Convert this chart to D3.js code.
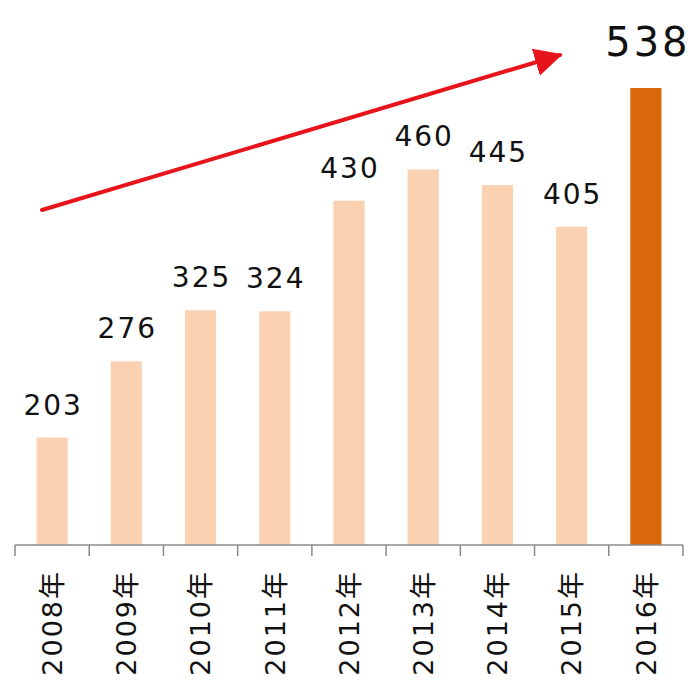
<!DOCTYPE html>
<html>
<head>
<meta charset="utf-8">
<script src="https://cdn.jsdelivr.net/npm/d3@7"></script>
<style>
  html, body { margin: 0; padding: 0; background: #fff; }
  svg { display: block; }
</style>
</head>
<body>
<svg id="chart" width="696" height="684"></svg>
<script>
// Yearly totals, 2008–2016
const years = ["2008年", "2009年", "2010年", "2011年", "2012年", "2013年", "2014年", "2015年", "2016年"];
const values = [203, 276, 325, 324, 430, 460, 445, 405, 538];
const highlightYear = "2016年";

const width = 696, height = 684;
const axisY = 545;

const svg = d3.select("#chart");

const x = d3.scaleBand()
  .domain(years)
  .range([15, 683])
  .paddingInner(0.58)
  .paddingOuter(0.29);

// value axis starts at 100, not zero
const y = d3.scaleLinear()
  .domain([100, 538])
  .range([axisY, 88]);

// bars
svg.append("g")
  .selectAll("rect")
  .data(years)
  .join("rect")
  .attr("x", d => x(d))
  .attr("width", x.bandwidth())
  .attr("y", (d, i) => y(values[i]))
  .attr("height", (d, i) => axisY - y(values[i]))
  .attr("fill", d => d === highlightYear ? "#D9680A" : "#FAD2B2");

// value labels
svg.append("g")
  .selectAll("text")
  .data(years)
  .join("text")
  .attr("x", d => x(d) + x.bandwidth() / 2 + (d === highlightYear ? 2 : 1))
  .attr("y", (d, i) => y(values[i]) - (d === highlightYear ? 32 : 23))
  .attr("text-anchor", "middle")
  .attr("font-family", "DejaVu Sans, sans-serif")
  .attr("font-size", d => d === highlightYear ? 40 : 28)
  .attr("letter-spacing", d => d === highlightYear ? 3 : 2)
  .attr("fill", "#111")
  .text((d, i) => values[i]);

// category axis: line with ticks at band edges
const axis = svg.append("g");
axis.append("line")
  .attr("x1", 15).attr("x2", 683)
  .attr("y1", axisY).attr("y2", axisY)
  .attr("stroke", "#8a8a8a").attr("stroke-width", 1.5);

const step = x.step();
const firstEdge = x(years[0]) - x.paddingOuter() * step;
axis.selectAll("line.tick")
  .data(d3.range(years.length + 1))
  .join("line")
  .attr("class", "tick")
  .attr("x1", i => firstEdge + i * step)
  .attr("x2", i => firstEdge + i * step)
  .attr("y1", axisY).attr("y2", axisY + 11)
  .attr("stroke", "#8a8a8a").attr("stroke-width", 1.5);

// rotated year labels
axis.selectAll("text")
  .data(years)
  .join("text")
  .attr("transform", d => `translate(${x(d) + x.bandwidth() / 2},570) rotate(-90)`)
  .attr("text-anchor", "end")
  .attr("dy", "0.36em")
  .attr("font-family", "DejaVu Sans, 'Noto Sans CJK JP', sans-serif")
  .attr("font-size", 27)
  .attr("letter-spacing", 2)
  .attr("fill", "#111")
  .text(d => d);

// trend arrow
const defs = svg.append("defs");
defs.append("marker")
  .attr("id", "head")
  .attr("viewBox", "0 0 10 10")
  .attr("refX", 9).attr("refY", 5)
  .attr("markerWidth", 7).attr("markerHeight", 7)
  .attr("markerUnits", "strokeWidth")
  .attr("orient", "auto")
  .append("path")
  .attr("d", "M0,0 L10,5 L0,10 Z")
  .attr("fill", "#E8141B");

svg.append("line")
  .attr("x1", 42).attr("y1", 210)
  .attr("x2", 560).attr("y2", 55)
  .attr("stroke", "#E8141B")
  .attr("stroke-width", 4)
  .attr("stroke-linecap", "round")
  .attr("marker-end", "url(#head)");
</script>
</body>
</html>
